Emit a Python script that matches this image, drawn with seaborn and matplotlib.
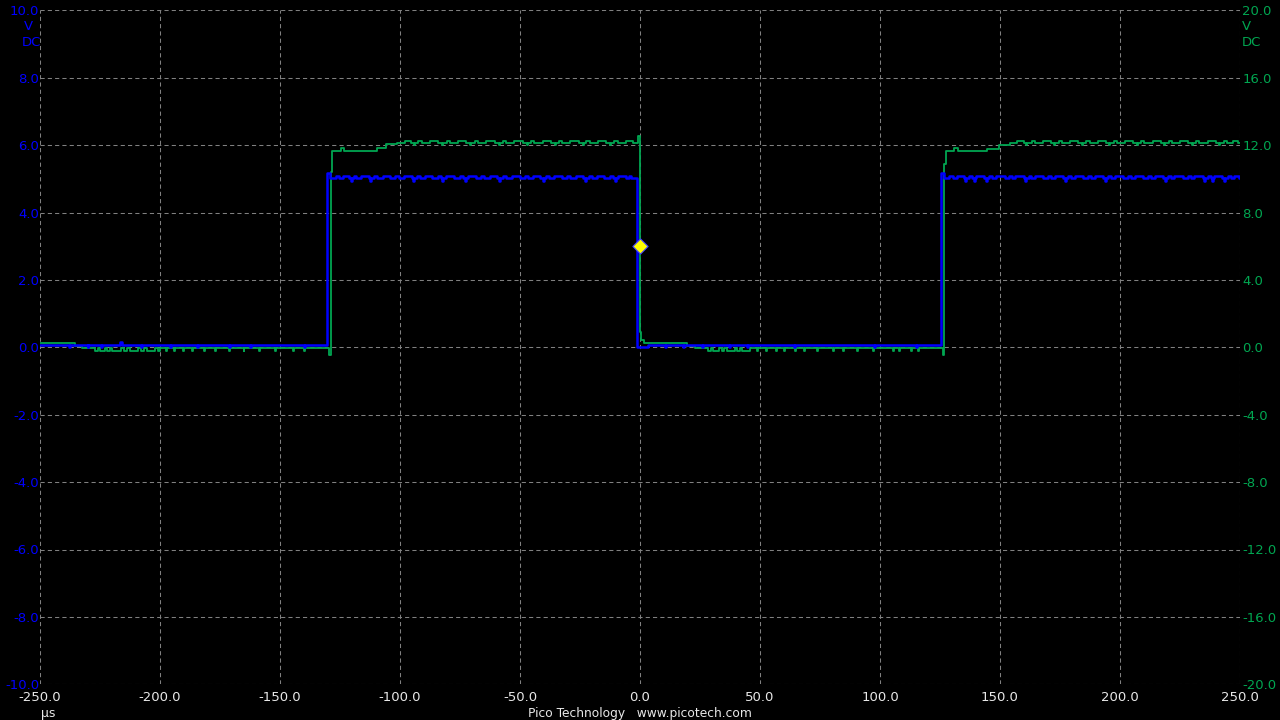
"""
PicoScope style capture: two channel square wave, blue on A (left), green on B (right).
"""

import numpy as np
import pandas as pd
import matplotlib
matplotlib.use("Agg")
import matplotlib.pyplot as plt
import seaborn as sns

# axes
time_ticks = [-250, -200, -150, -100, -50, 0, 50, 100, 150, 200, 250]
chA_ticks = [-10, -8, -6, -4, -2, 0, 2, 4, 6, 8, 10]
chB_ticks = [-20, -16, -12, -8, -4, 0, 4, 8, 12, 16, 20]

# channel A (blue, volts) step breakpoints, time in us
chA_t = [-250.0, -130.3, -129.0, -1.4, 3.5, 125.5, 126.7, 250.0]
chA_v = [0.06, 5.16, 5.03, 0.02, 0.06, 5.16, 5.03, 5.03]

# channel A glitches: (start, end, level)
chA_glitches = [
    (-238.0, -237.6, 0.0), (-230.2, -229.8, 0.0), (-224.5, -224.1, 0.0),
    (-216.5, -216.0, 0.16), (-207.8, -207.4, 0.0), (-196.0, -195.6, 0.0),
    (-184.4, -184.0, 0.0), (-171.2, -170.8, 0.0), (-162.5, -162.1, 0.0),
    (-140.0, -139.6, 0.0),
    (-126.8, -125.5, 5.09), (-123.9, -121.2, 5.09), (-119.0, -118.2, 5.09),
    (-116.4, -113.1, 5.09), (-110.7, -109.5, 5.09), (-107.2, -104.0, 5.09),
    (-101.9, -100.6, 5.09), (-98.3, -95.1, 5.09), (-92.8, -91.7, 5.09),
    (-89.5, -86.6, 5.09), (-84.1, -82.9, 5.09), (-80.7, -77.3, 5.09),
    (-75.0, -73.8, 5.09), (-71.6, -68.5, 5.09), (-66.2, -64.9, 5.09),
    (-62.7, -59.4, 5.09), (-57.1, -55.8, 5.09), (-53.5, -50.2, 5.09),
    (-48.0, -46.8, 5.09), (-44.6, -41.5, 5.09), (-39.2, -38.0, 5.09),
    (-35.7, -32.6, 5.09), (-30.3, -29.1, 5.09), (-26.8, -23.7, 5.09),
    (-21.4, -20.2, 5.09), (-17.9, -14.8, 5.09), (-12.5, -11.3, 5.09),
    (-9.0, -5.9, 5.09), (-4.6, -3.7, 5.09),
    (-120.5, -120.1, 4.94), (-112.3, -111.9, 4.94), (-94.5, -94.1, 4.94),
    (-82.4, -82.0, 4.94), (-72.9, -72.5, 4.94), (-58.6, -58.2, 4.94),
    (-40.3, -39.9, 4.94), (-22.8, -22.4, 4.94), (-10.4, -10.0, 4.94),
    (10.5, 10.9, 0.0), (17.8, 18.2, 0.0), (26.0, 26.4, 0.0), (36.9, 37.3, 0.0),
    (44.6, 45.0, 0.0), (64.3, 64.7, 0.0), (97.4, 97.8, 0.0), (115.2, 115.6, 0.0),
    (128.6, 130.3, 5.09), (131.9, 135.0, 5.09), (137.2, 138.4, 5.09),
    (140.1, 143.5, 5.09), (145.6, 146.8, 5.09), (148.3, 151.9, 5.09),
    (153.7, 154.9, 5.09), (156.4, 159.8, 5.09), (161.9, 163.1, 5.09),
    (164.6, 168.0, 5.09), (170.2, 171.4, 5.09), (172.9, 176.3, 5.09),
    (178.5, 179.7, 5.09), (181.2, 184.6, 5.09), (186.8, 188.0, 5.09),
    (189.5, 192.9, 5.09), (195.1, 196.3, 5.09), (197.8, 201.2, 5.09),
    (203.4, 204.6, 5.09), (206.1, 209.5, 5.09), (211.7, 212.9, 5.09),
    (214.4, 217.8, 5.09), (220.0, 221.2, 5.09), (222.7, 226.1, 5.09),
    (228.3, 229.5, 5.09), (231.0, 234.4, 5.09), (236.6, 237.8, 5.09),
    (239.3, 242.7, 5.09), (244.9, 246.1, 5.09), (247.6, 249.5, 5.09),
    (135.5, 135.9, 4.94), (139.0, 139.4, 4.94), (144.1, 144.5, 4.94),
    (160.3, 160.7, 4.94), (177.1, 177.5, 4.94), (193.6, 194.0, 4.94),
    (218.6, 219.0, 4.94), (235.2, 235.6, 4.94), (238.4, 238.8, 4.94),
    (243.4, 243.8, 4.94),
]

# channel B (green, volts) step breakpoints
chB_t = [-250.0, -235.4, -232.5, -129.6, -128.9, -128.3, -124.6, -123.3,
         -109.6, -105.8, -101.3, -0.8, 0.1, 0.6, 1.5, 19.6, 23.0,
         126.1, 126.8, 127.6, 130.8, 132.5, 144.6, 149.6, 154.2, 250.0]
chB_v = [0.28, 0.10, -0.04, -0.45, 10.4, 11.67, 11.85, 11.67,
         11.85, 12.05, 12.15, 12.55, 0.93, 0.43, 0.27, 0.08, -0.04,
         -0.46, 10.9, 11.67, 11.85, 11.67, 11.75, 12.0, 12.12, 12.12]

chB_glitches = [
    (-227.0, -225.8, -0.2), (-224.9, -223.1, -0.2), (-222.0, -220.7, -0.2),
    (-219.8, -216.4, -0.2), (-215.2, -213.9, -0.2), (-212.7, -209.0, -0.2),
    (-207.8, -206.5, -0.2), (-205.3, -202.1, -0.2), (-201.0, -200.2, -0.2),
    (-197.6, -197.2, -0.2), (-194.1, -193.7, -0.2), (-190.3, -189.9, -0.2),
    (-186.8, -186.4, -0.2), (-181.5, -181.1, -0.2), (-176.9, -176.5, -0.2),
    (-171.4, -171.0, -0.2), (-165.2, -164.8, -0.2), (-158.7, -158.3, -0.2),
    (-151.9, -151.5, -0.2), (-144.6, -144.2, -0.2), (-139.8, -139.4, -0.2),
    (-98.0, -95.5, 12.22), (-92.4, -90.9, 12.22), (-87.6, -84.2, 12.22),
    (-80.3, -79.1, 12.22), (-75.8, -72.4, 12.22), (-68.9, -67.5, 12.22),
    (-64.1, -60.6, 12.22), (-57.2, -55.9, 12.22), (-52.3, -48.8, 12.22),
    (-45.5, -44.1, 12.22), (-40.6, -37.2, 12.22), (-33.9, -32.5, 12.22),
    (-29.0, -25.6, 12.22), (-22.3, -20.9, 12.22), (-17.4, -14.0, 12.22),
    (-10.7, -9.3, 12.22), (-5.8, -2.9, 12.22),
    (-94.1, -93.7, 12.0), (-82.6, -82.2, 12.0), (-70.7, -70.3, 12.0),
    (-58.9, -58.5, 12.0), (-47.2, -46.8, 12.0), (-35.6, -35.2, 12.0),
    (-23.9, -23.5, 12.0), (-12.3, -11.9, 12.0),
    (28.3, 29.5, -0.2), (30.4, 33.1, -0.2), (34.0, 35.2, -0.2),
    (36.1, 39.4, -0.2), (40.3, 41.5, -0.2), (42.4, 45.8, -0.2),
    (48.9, 49.3, -0.2), (52.6, 53.0, -0.2), (56.8, 57.2, -0.2),
    (60.1, 60.5, -0.2), (64.7, 65.1, -0.2), (68.3, 68.7, -0.2),
    (73.9, 74.3, -0.2), (80.4, 80.8, -0.2), (84.6, 85.0, -0.2),
    (90.4, 90.8, -0.2), (97.0, 97.4, -0.2), (105.4, 105.8, -0.2),
    (108.0, 108.4, -0.2), (113.0, 113.4, -0.2), (115.8, 116.2, -0.2),
    (157.1, 159.9, 12.22), (163.2, 164.5, 12.22), (167.8, 171.1, 12.22),
    (174.6, 175.9, 12.22), (179.3, 182.7, 12.22), (186.0, 187.3, 12.22),
    (190.8, 194.1, 12.22), (197.5, 198.8, 12.22), (202.2, 205.6, 12.22),
    (208.9, 210.2, 12.22), (213.7, 217.0, 12.22), (220.4, 221.7, 12.22),
    (225.1, 228.5, 12.22), (231.8, 233.1, 12.22), (236.6, 239.9, 12.22),
    (243.3, 244.6, 12.22), (247.0, 249.2, 12.22),
    (161.0, 161.4, 12.0), (172.5, 172.9, 12.0), (184.1, 184.5, 12.0),
    (195.6, 196.0, 12.0), (207.0, 207.4, 12.0), (218.5, 218.9, 12.0),
    (230.0, 230.4, 12.0), (241.4, 241.8, 12.0),
]

# trigger marker (time, channel A volts)
trigger_t = [0.0]
trigger_v = [3.0]

BLUE = "#0000ff"
GREEN = "#00a651"
GRID = "#808080"
TEXT = "#e8e8e8"


def build_trace(base_t, base_v, glitches):
    """Merge step breakpoints with short glitches into one step series."""
    pts = list(zip(base_t, base_v))
    for t0, t1, v in glitches:
        back = base_v[np.searchsorted(base_t, t1, side="right") - 1]
        pts += [(t0, v), (t1, back)]
    pts.sort()
    return pd.DataFrame(pts, columns=["time", "volts"])


chA = build_trace(chA_t, chA_v, chA_glitches)
chB = build_trace(chB_t, chB_v, chB_glitches)

sns.set_style("dark")
plt.rcParams["font.family"] = ["DejaVu Sans"]

fig = plt.figure(figsize=(12.8, 7.2), dpi=100, facecolor="black")
ax = fig.add_axes([40 / 1280, 35.7 / 720, 1200 / 1280, 674 / 720])
ax2 = ax.twinx()

# green on the lower axes (with the grid), blue + trigger on top
ax.set_zorder(ax2.get_zorder() + 1)
ax.patch.set_visible(False)
ax2.patch.set_visible(False)

sns.lineplot(data=chB, x="time", y="volts", ax=ax2, color=GREEN, lw=1.3,
             drawstyle="steps-post", estimator=None, sort=False)
sns.lineplot(data=chA, x="time", y="volts", ax=ax, color=BLUE, lw=1.8,
             drawstyle="steps-post", estimator=None, sort=False)
sns.scatterplot(x=trigger_t, y=trigger_v, ax=ax, marker="D", s=60,
                color="#ffff00", edgecolor="#4040ff", linewidth=0.8, zorder=5)

ax.set_xlim(-250, 250)
ax.set_ylim(-10, 10)
ax2.set_ylim(-20, 20)

ax.set_xticks(time_ticks, labels=[f"{t:.1f}" for t in time_ticks])
ax.set_yticks(chA_ticks, labels=[f"{v:.1f}" for v in chA_ticks])
ax2.set_yticks(chB_ticks, labels=[f"{v:.1f}" for v in chB_ticks])

for a in (ax, ax2):
    a.set_xlabel("")
    a.set_ylabel("")
ax.grid(False)

ax2.xaxis.set_visible(True)
ax2.tick_params(axis="x", length=0, labelbottom=False, labeltop=False)
ax2.grid(True, color=GRID, linestyle=(0, (4, 3)), linewidth=0.75)

ax.tick_params(axis="x", length=0, pad=5, labelsize=9.5, labelcolor=TEXT)
ax.tick_params(axis="y", length=0, pad=0.5, labelsize=9.5, labelcolor=BLUE)
ax2.tick_params(axis="y", length=0, pad=1.5, labelsize=9.5, labelcolor=GREEN)

for a in (ax, ax2):
    for s in a.spines.values():
        s.set_visible(False)

# unit labels
fig.text(28 / 1280, 1 - 27 / 720, "V", color=BLUE, fontsize=9.5, ha="center", va="center")
fig.text(41 / 1280, 1 - 42 / 720, "DC", color=BLUE, fontsize=9.5, ha="right", va="center")
fig.text(1242 / 1280, 1 - 27 / 720, "V", color=GREEN, fontsize=9.5, ha="left", va="center")
fig.text(1242 / 1280, 1 - 42 / 720, "DC", color=GREEN, fontsize=9.5, ha="left", va="center")
fig.text(48 / 1280, 1 - 713 / 720, "µs", color=TEXT, fontsize=9, ha="center", va="center")
fig.text(0.5, 1 - 713 / 720, "Pico Technology   www.picotech.com", color=TEXT,
         fontsize=8.8, ha="center", va="center")

fig.savefig("out.png", dpi=100, facecolor="black")
